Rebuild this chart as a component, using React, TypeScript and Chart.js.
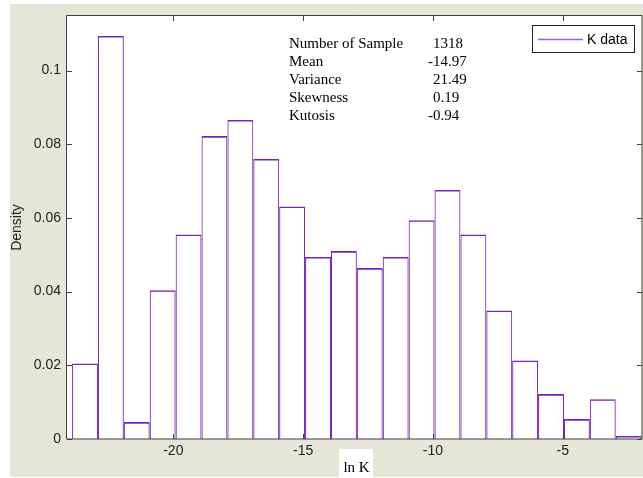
import React, { useEffect, useRef } from "react";
import { Chart, registerables } from "chart.js";

Chart.register(...registerables);

// ---- data ----
const binCenters = [
  -23.401, -22.404, -21.407, -20.409, -19.412, -18.415, -17.417, -16.42,
  -15.423, -14.425, -13.428, -12.431, -11.433, -10.436, -9.439, -8.441,
  -7.444, -6.447, -5.449, -4.452, -3.455, -2.457,
];
const density = [
  0.0205, 0.1094, 0.0046, 0.0404, 0.0555, 0.0822, 0.0866, 0.076, 0.0631,
  0.0494, 0.051, 0.0464, 0.0494, 0.0594, 0.0676, 0.0555, 0.0349, 0.0213,
  0.0122, 0.0054, 0.0108, 0.0008,
];
const xTicks = [-20, -15, -10, -5];
const xTickLabels = ["-20", "-15", "-10", "-5"];
const yTicks = [0, 0.02, 0.04, 0.06, 0.08, 0.1];
const yTickLabels = ["0", "0.02", "0.04", "0.06", "0.08", "0.1"];
const statNames = ["Number of Sample", "Mean", "Variance", "Skewness", "Kutosis"];
const statValues = ["1318", "-14.97", "21.49", "0.19", "-0.94"];
const xTitle = "ln K";
const yTitle = "Density";
const legendLabel = "K data";
const xMin = -24.095;
const xMax = -1.945;
const yMax = 0.1148;

const SANS = '"Liberation Sans", Arial, sans-serif';
const SERIF = '"Liberation Serif", "Times New Roman", serif';
const AXIS = "#404040";
const BAR = "#7a22bc";

const framePlugin = {
  id: "frame",
  beforeDraw(chart: any) {
    const { ctx, width, height, chartArea: a } = chart;
    ctx.save();
    ctx.fillStyle = "#ffffff";
    ctx.fillRect(0, 0, width, height);
    ctx.fillStyle = "#e6e6d8";
    ctx.fillRect(10, 4, width - 10, height - 5);
    ctx.fillStyle = "#ffffff";
    ctx.fillRect(a.left, a.top, a.right - a.left, a.bottom - a.top);
    // white box behind x title
    ctx.font = "15px " + SERIF;
    const w = ctx.measureText(xTitle).width;
    const cx = (a.left + a.right) / 2 + 2;
    ctx.fillRect(Math.round(cx - w / 2 - 4), 449, Math.round(w + 8), 28);
    ctx.restore();
  },
  afterDatasetsDraw(chart: any) {
    const { ctx, chartArea: a } = chart;
    const xs = chart.scales.x;
    const ys = chart.scales.y;
    ctx.save();
    // axes box
    ctx.strokeStyle = AXIS;
    ctx.lineWidth = 1;
    ctx.beginPath();
    ctx.rect(a.left - 0.5, a.top - 0.5, a.right - a.left + 0.5, a.bottom - a.top + 0.5);
    ctx.stroke();
    // inward ticks
    const tl = 5;
    ctx.beginPath();
    xTicks.forEach((v) => {
      const px = Math.round(xs.getPixelForValue(v)) + 0.5;
      ctx.moveTo(px, a.bottom);
      ctx.lineTo(px, a.bottom - tl);
      ctx.moveTo(px, a.top);
      ctx.lineTo(px, a.top + tl);
    });
    yTicks.forEach((v) => {
      const py = Math.round(ys.getPixelForValue(v)) + 0.5;
      ctx.moveTo(a.left, py);
      ctx.lineTo(a.left + tl, py);
      ctx.moveTo(a.right, py);
      ctx.lineTo(a.right - tl, py);
    });
    ctx.stroke();

    // statistics annotation
    ctx.fillStyle = "#000";
    ctx.font = "15px " + SERIF;
    ctx.textBaseline = "alphabetic";
    ctx.textAlign = "left";
    const minusW = ctx.measureText("-").width;
    statNames.forEach((name, i) => {
      const y = 47.5 + i * 18.2;
      ctx.fillText(name, 289, y);
      const val = statValues[i];
      const vx = val.startsWith("-") ? 433 - minusW : 433;
      ctx.fillText(val, vx, y);
    });

    // legend
    ctx.fillStyle = "#ffffff";
    ctx.fillRect(532, 25, 103, 28);
    ctx.strokeStyle = "#222";
    ctx.strokeRect(532.5, 25.5, 102, 27);
    ctx.strokeStyle = "#9a5fd0";
    ctx.lineWidth = 1.5;
    ctx.beginPath();
    ctx.moveTo(538, 39.5);
    ctx.lineTo(583, 39.5);
    ctx.stroke();
    ctx.fillStyle = "#000";
    ctx.font = "14px " + SANS;
    ctx.textBaseline = "middle";
    ctx.fillText(legendLabel, 587, 40);

    // axis titles
    ctx.fillStyle = "#000";
    ctx.font = "15px " + SERIF;
    ctx.textAlign = "center";
    ctx.textBaseline = "alphabetic";
    ctx.fillText(xTitle, (a.left + a.right) / 2 + 2, 471.5);

    ctx.fillStyle = "#222";
    ctx.font = "14px " + SANS;
    ctx.translate(17.5, (a.top + a.bottom) / 2);
    ctx.rotate(-Math.PI / 2);
    ctx.textBaseline = "middle";
    ctx.fillText(yTitle, 0, 0);
    ctx.restore();
  },
};

export default function App() {
  const ref = useRef<HTMLCanvasElement | null>(null);
  useEffect(() => {
    if (!ref.current) return;
    const chart = new Chart(ref.current, {
      type: "bar",
      data: {
        datasets: [
          {
            label: legendLabel,
            data: binCenters.map((x, i) => ({ x, y: density[i] })),
            backgroundColor: "rgba(255,255,255,0)",
            borderColor: BAR,
            borderWidth: { top: 1.6, left: 1, right: 1, bottom: 0 },
            borderSkipped: "start",
            barPercentage: 1,
            categoryPercentage: 1,
            inflateAmount: 0,
          } as any,
        ],
      },
      options: {
        animation: false,
        responsive: false,
        devicePixelRatio: 1,
        layout: { padding: { left: 0, top: 16, right: 1, bottom: 0 } },
        plugins: {
          legend: { display: false },
          tooltip: { enabled: false },
          title: { display: false },
        },
        scales: {
          x: {
            type: "linear",
            min: xMin,
            max: xMax,
            offset: false,
            grid: { display: false, drawTicks: false },
            border: { display: false },
            afterBuildTicks: (s: any) => {
              s.ticks = xTicks.map((v) => ({ value: v }));
            },
            afterFit: (s: any) => {
              s.height = 39;
            },
            ticks: {
              autoSkip: false,
              maxRotation: 0,
              padding: 4,
              color: "#222",
              font: { family: SANS, size: 14 },
              callback: (v: any) => xTickLabels[xTicks.indexOf(Number(v))] ?? "",
            },
          },
          y: {
            type: "linear",
            min: 0,
            max: yMax,
            grid: { display: false, drawTicks: false },
            border: { display: false },
            afterBuildTicks: (s: any) => {
              s.ticks = yTicks.map((v) => ({ value: v }));
            },
            afterFit: (s: any) => {
              s.width = 67;
            },
            ticks: {
              autoSkip: false,
              padding: 6,
              color: "#222",
              font: { family: SANS, size: 14 },
              callback: (v: any) => yTickLabels[yTicks.indexOf(Number(v))] ?? "",
            },
          },
        },
      } as any,
      plugins: [framePlugin],
    });
    return () => chart.destroy();
  }, []);
  return (
    <div style={{ position: "absolute", left: 0, top: 0, width: 643, height: 478 }}>
      <canvas ref={ref} width={643} height={478} style={{ display: "block" }} />
    </div>
  );
}
